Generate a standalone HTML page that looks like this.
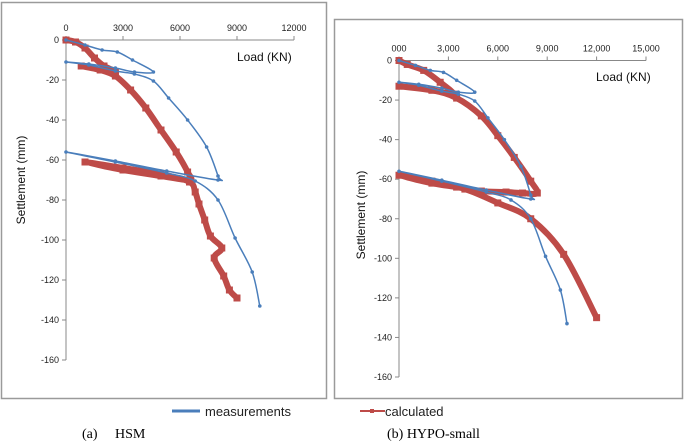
<!DOCTYPE html>
<html><head><meta charset="utf-8"><style>
body{margin:0;background:#fff;width:685px;height:442px;overflow:hidden}
svg text{font-family:"Liberation Sans",sans-serif}
</style></head><body>
<svg id="c" width="685" height="442" xmlns="http://www.w3.org/2000/svg">
<rect x="1.5" y="2.5" width="325" height="396" fill="none" stroke="#9a9a9a" stroke-width="1.5"/>
<rect x="334.5" y="19.5" width="348" height="379" fill="none" stroke="#9a9a9a" stroke-width="1.5"/>
<g>
<line x1="172" y1="411" x2="200" y2="411" stroke="#4a7ebb" stroke-width="3"/>
<text x="205" y="416" font-size="13" fill="#222">measurements</text>
<line x1="360" y1="411" x2="385" y2="411" stroke="#be4b48" stroke-width="2"/>
<rect x="370" y="409" width="4" height="4" fill="#be4b48"/>
<text x="385" y="416" font-size="13" fill="#222">calculated</text>
</g>
<text x="82" y="438" font-size="14" style="font-family:'Liberation Serif',serif">(a)&#160;&#160;&#160;&#160; HSM</text>
<text x="387" y="438" font-size="14" style="font-family:'Liberation Serif',serif">(b) HYPO-small</text>
</svg>
<script>
const measLoad=[0,1000,1900,2700,3500,4600,3600,2600,1200,0,1200,2600,3600,4600,5400,6400,7400,8000,8000,5300,2600,0,2600,5300,6800,8000,8900,9800,10200];
const measSett=[0,-2.5,-5,-6,-10,-16,-16,-14,-12,-11,-12.5,-15.5,-17,-20.5,-29,-40,-53.5,-68,-70,-65.5,-60.5,-56,-61,-66.5,-70.5,-80,-99,-116,-133];
const hsmLoad=[0,500,1000,1500,2000,2600,800,1800,2600,3400,4200,5000,5800,6400,6500,5000,3000,1000,3000,5000,6500,6800,7000,7300,7600,8200,7800,8300,8600,9000];
const hsmSett=[0,-1,-4,-9,-13,-16,-13,-15,-18,-25,-34,-45,-56,-66,-70,-68,-65,-61,-64,-67,-71,-76,-82,-90,-98,-104,-109,-118,-125,-129];
const hypoLoad=[0,500,1500,2500,3300,2000,0,2000,3500,5000,6000,7000,8000,8400,7500,6500,5000,3500,2000,0,2000,4000,6000,8000,10000,12000];
const hypoSett=[0,-2,-5,-11,-17,-15,-13,-15,-19,-28,-38,-49,-61,-67,-67,-66.5,-66,-64,-62,-58,-61,-65,-72,-80,-98,-130];
const ticksA=["0","3000","6000","9000","12000"],ticksAv=[0,3000,6000,9000,12000];
const ticksB=["000","3,000","6,000","9,000","12,000","15,000"],ticksBv=[0,3000,6000,9000,12000,15000];
const yTicks=[0,-20,-40,-60,-80,-100,-120,-140,-160];
const svg=document.getElementById('c');const NS="http://www.w3.org/2000/svg";
function mk(t,a,p){const e=document.createElementNS(NS,t);for(const k in a)e.setAttribute(k,a[k]);(p||svg).appendChild(e);return e;}
function smooth(P){let d='M'+P[0][0]+','+P[0][1];for(let i=0;i<P.length-1;i++){const p0=P[Math.max(i-1,0)],p1=P[i],p2=P[i+1],p3=P[Math.min(i+2,P.length-1)];
 const c1=[p1[0]+(p2[0]-p0[0])/6,p1[1]+(p2[1]-p0[1])/6],c2=[p2[0]-(p3[0]-p1[0])/6,p2[1]-(p3[1]-p1[1])/6];
 d+=` C${c1[0]},${c1[1]} ${c2[0]},${c2[1]} ${p2[0]},${p2[1]}`;}return d;}
function panel(id,x0,x1,xmax,y0,y1,tv,tl,lx,ly,sx,sy,calcL,calcS){
 const X=v=>x0+(v/xmax)*(x1-x0),Y=v=>y0+(v/-160)*(y1-y0);
 const g=mk('g',{});
 
 
 const xa=mk('line',{x1:x0,y1:y0,x2:x1,y2:y0,stroke:'#888'},g);
 
 
 const ya=mk('line',{x1:x0,y1:y0,x2:x0,y2:y1,stroke:'#888'},g);
 
 
 tv.forEach((v,i)=>{mk('line',{x1:X(v),y1:y0-4,x2:X(v),y2:y0,stroke:'#888'},g);
  const t=mk('text',{x:X(v),y:y0-9,'font-size':9,'text-anchor':'middle',fill:'#222'},g);t.textContent=tl[i];
  
  });
 yTicks.forEach(v=>{mk('line',{x1:x0-4,y1:Y(v),x2:x0,y2:Y(v),stroke:'#888'},g);
  const t=mk('text',{x:x0-7,y:Y(v)+3,'font-size':9,'text-anchor':'end',fill:'#222'},g);t.textContent=v;
  
  });
 const xt=mk('text',{x:lx,y:ly,'font-size':12,fill:'#111'},g);xt.textContent='Load (KN)';
 
 
 const yt=mk('text',{x:sx,y:sy,'font-size':12,fill:'#111','text-anchor':'middle',transform:`rotate(-90 ${sx} ${sy})`},g);yt.textContent='Settlement (mm)';
 
 
 const cp=mk('path',{d:smooth(calcL.map((v,i)=>[X(v),Y(calcS[i])])),fill:'none',stroke:'#be4b48','stroke-width':6,'stroke-linejoin':'round'},g);
 
 
 calcL.forEach((v,i)=>{const r=mk('rect',{x:X(v)-3.5,y:Y(calcS[i])-3.5,width:7,height:7,fill:'#be4b48'},g);
  
  });
 const mp=mk('path',{d:smooth(measLoad.map((v,i)=>[X(v),Y(measSett[i])])),fill:'none',stroke:'#4a7ebb','stroke-width':1.5},g);
 
 
 measLoad.forEach((v,i)=>{const c=mk('circle',{cx:X(v),cy:Y(measSett[i]),r:1.8,fill:'#4a7ebb'},g);
  
  });
}
panel('hsm',66,294,12000,40,360,ticksAv,ticksA,237,61,25,180,hsmLoad,hsmSett);
panel('hypo',399,646,15000,60.5,377,ticksBv,ticksB,596,81,365,215,hypoLoad,hypoSett);
</script>
</body></html>
